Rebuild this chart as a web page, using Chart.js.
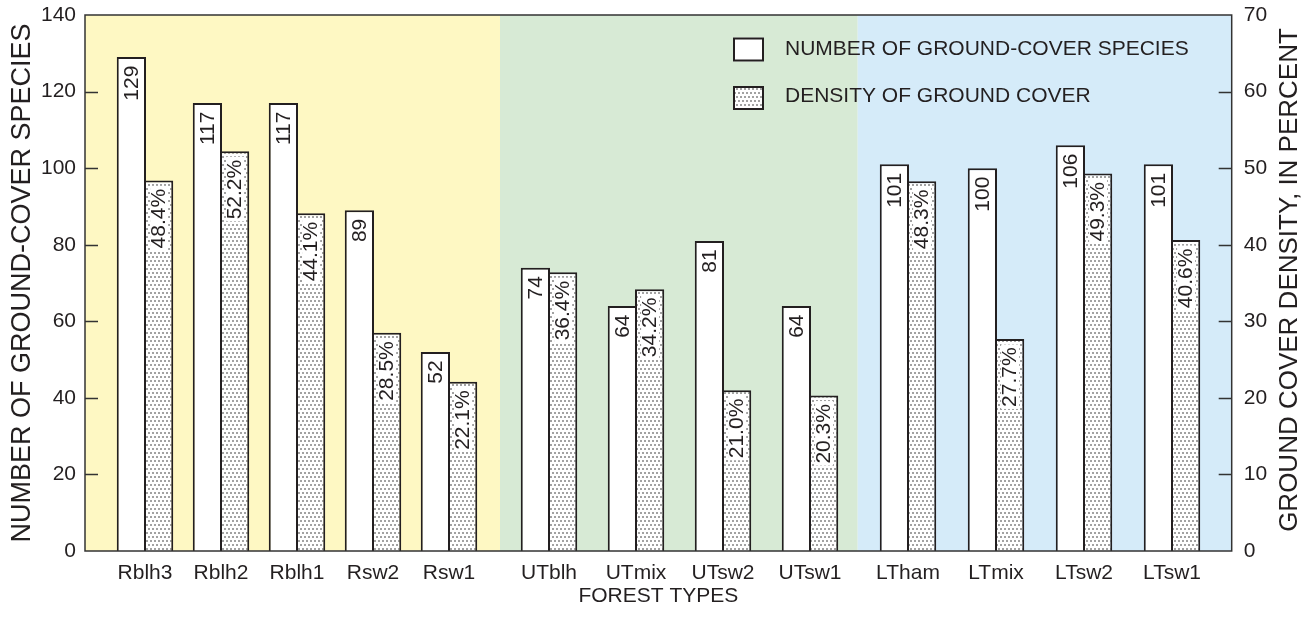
<!DOCTYPE html>
<html><head><meta charset="utf-8">
<script src="https://cdn.jsdelivr.net/npm/chart.js@4.4.1/dist/chart.umd.min.js"></script>
<style>html,body{margin:0;padding:0;background:#fff}#wrap{width:1314px;height:633px;position:relative}</style>
</head><body><div id="wrap"><canvas id="c"></canvas></div>
<script>
// ---------- DATA ----------
const categories = ['Rblh3','Rblh2','Rblh1','Rsw2','Rsw1','UTblh','UTmix','UTsw2','UTsw1','LTham','LTmix','LTsw2','LTsw1'];
const groupSizes = [5, 4, 4];
const speciesCount = [129, 117, 117, 89, 52, 74, 64, 81, 64, 101, 100, 106, 101];
const coverDensity = [48.4, 52.2, 44.1, 28.5, 22.1, 36.4, 34.2, 21.0, 20.3, 48.3, 27.7, 49.3, 40.6];
const leftTicks = [0, 20, 40, 60, 80, 100, 120, 140];
const rightTicks = [0, 10, 20, 30, 40, 50, 60, 70];
const seriesNames = ['NUMBER OF GROUND-COVER SPECIES', 'DENSITY OF GROUND COVER'];
const xTitle = 'FOREST TYPES';
const yTitle = 'NUMBER OF GROUND-COVER SPECIES';
const y1Title = 'GROUND COVER DENSITY, IN PERCENT';

// ---------- LAYOUT (axis units along x) ----------
const X_SPAN = 1146.7;
const GROUP_START = [60, 464, 823];
const GROUP_STEP = [76, 87, 88];
const BAND_EDGES = [0, 415, 772.7, X_SPAN];
const BAND_COLORS = ['#fef8c3', '#d7ead5', '#d5ebf9'];
const INK = '#231f20';
const FONT = "'Liberation Sans', Arial, Helvetica, sans-serif";

const xPos = [];
groupSizes.forEach((n, g) => { for (let i = 0; i < n; i++) xPos.push(GROUP_START[g] + i * GROUP_STEP[g]); });

const canvas = document.getElementById('c');
const ctx0 = canvas.getContext('2d');
function makeDots() {
  const t = document.createElement('canvas'); t.width = 8; t.height = 8;
  const g = t.getContext('2d');
  g.fillStyle = '#ffffff'; g.fillRect(0, 0, 8, 8);
  g.fillStyle = '#a2a2a2';
  [[0,0],[4,0],[2,4],[6,4]].forEach(([x, y]) => g.fillRect(x, y, 2, 2));
  return ctx0.createPattern(t, 'repeat');
}
const dots = makeDots();

Chart.defaults.font.family = FONT;
Chart.defaults.color = INK;

const bandsPlugin = {
  id: 'bands',
  beforeDatasetsDraw(chart) {
    const { ctx, chartArea: a, scales: { x } } = chart;
    ctx.save();
    for (let i = 0; i < BAND_COLORS.length; i++) {
      const x0 = x.getPixelForValue(BAND_EDGES[i]);
      const x1 = x.getPixelForValue(BAND_EDGES[i + 1]);
      ctx.fillStyle = BAND_COLORS[i];
      ctx.fillRect(x0, a.top, x1 - x0, a.bottom - a.top);
    }
    ctx.restore();
  }
};

const framePlugin = {
  id: 'frame',
  afterDatasetsDraw(chart) {
    const { ctx, chartArea: a, scales: { y, y1 } } = chart;
    ctx.save();
    ctx.strokeStyle = '#333';
    ctx.lineWidth = 1.5;
    ctx.beginPath();
    leftTicks.slice(1, -1).forEach(v => { const p = Math.round(y.getPixelForValue(v)) + 0.5; ctx.moveTo(a.left, p); ctx.lineTo(a.left + 13, p); });
    rightTicks.slice(1, -1).forEach(v => { const p = Math.round(y1.getPixelForValue(v)) + 0.5; ctx.moveTo(a.right, p); ctx.lineTo(a.right - 13, p); });
    ctx.stroke();
    ctx.strokeRect(a.left, a.top, a.right - a.left, a.bottom - a.top);
    ctx.restore();
  }
};

const labelPlugin = {
  id: 'barLabels',
  afterDatasetsDraw(chart) {
    const { ctx } = chart;
    ctx.save();
    ctx.font = '21px ' + FONT;
    chart.data.datasets.forEach((ds, di) => {
      const meta = chart.getDatasetMeta(di);
      meta.data.forEach((bar, i) => {
        const v = ds.data[i].y;
        const txt = di === 0 ? String(v) : v.toFixed(1) + '%';
        const tw = ctx.measureText(txt).width;
        ctx.save();
        ctx.translate(bar.x + 0.5, bar.y + 8.5);
        ctx.rotate(-Math.PI / 2);
        if (di === 1) { ctx.fillStyle = '#fff'; ctx.fillRect(-tw - 2, -9, tw + 5, 18); }
        ctx.fillStyle = INK;
        ctx.textAlign = 'right';
        ctx.textBaseline = 'middle';
        ctx.fillText(txt, 0, 0);
        ctx.restore();
      });
    });
    ctx.restore();
  }
};

const extrasPlugin = {
  id: 'extras',
  afterDraw(chart) {
    const { ctx, chartArea: a, scales: { y1 } } = chart;
    ctx.save();
    ctx.font = '26px ' + FONT;
    ctx.fillStyle = INK;
    ctx.textAlign = 'center'; ctx.textBaseline = 'middle';
    ctx.translate(y1.right - 24, (a.top + a.bottom) / 2 - 3);
    ctx.rotate(-Math.PI / 2);
    ctx.fillText(y1Title, 0, 0);
    ctx.restore();
    ctx.save();
    const lx = a.left + 648, rows = [a.top + 22.5, a.top + 71];
    const fills = ['#ffffff', dots];
    ctx.font = '21px ' + FONT;
    ctx.textBaseline = 'middle'; ctx.textAlign = 'left';
    rows.forEach((ry, k) => {
      ctx.fillStyle = fills[k];
      ctx.fillRect(lx, ry, 31, 24);
      ctx.strokeStyle = INK; ctx.lineWidth = 2;
      ctx.strokeRect(lx + 1, ry + 1, 29, 22);
      ctx.fillStyle = INK;
      ctx.fillText(seriesNames[k], lx + 52, ry + 12 - (k === 1 ? 1.5 : 0));
    });
    ctx.restore();
  }
};

const barStyle = { borderColor: INK, borderWidth: 2, borderSkipped: 'start', barPercentage: 1.0734, categoryPercentage: 0.717 };
const fitVertical = w => s => { s.width = w; s.paddingTop = 0; s.paddingBottom = 0; };

new Chart(canvas, {
  type: 'bar',
  data: {
    datasets: [
      Object.assign({ label: seriesNames[0], data: categories.map((c, i) => ({ x: xPos[i], y: speciesCount[i] })), backgroundColor: '#ffffff', yAxisID: 'y' }, barStyle),
      Object.assign({ label: seriesNames[1], data: categories.map((c, i) => ({ x: xPos[i], y: coverDensity[i] })), backgroundColor: dots, yAxisID: 'y1' }, barStyle)
    ]
  },
  options: {
    responsive: true, maintainAspectRatio: false, animation: false,
    layout: { padding: { top: 15, left: 0, right: 0, bottom: 0 } },
    plugins: { legend: { display: false }, tooltip: { enabled: false } },
    scales: {
      x: {
        type: 'linear', min: 0, max: X_SPAN, offset: false,
        grid: { display: false, drawTicks: false }, border: { display: false },
        afterBuildTicks: s => { s.ticks = xPos.map(v => ({ value: v })); },
        afterFit: s => { s.height = 82; },
        ticks: { autoSkip: false, maxRotation: 0, padding: 10, font: { size: 21 }, color: INK, callback: (v, i) => categories[i] },
        title: { display: true, text: xTitle, font: { size: 21 }, color: INK, padding: { top: 0, bottom: 24 } }
      },
      y: {
        position: 'left', min: 0, max: 140,
        grid: { display: false, drawTicks: false }, border: { display: false },
        afterBuildTicks: s => { s.ticks = leftTicks.map(v => ({ value: v })); },
        afterFit: fitVertical(85),
        ticks: { padding: 9, font: { size: 21 }, color: INK },
        title: { display: true, text: yTitle, font: { size: 27 }, color: INK, padding: { top: 6, bottom: 0 } }
      },
      y1: {
        position: 'right', min: 0, max: 70,
        grid: { display: false, drawTicks: false }, border: { display: false },
        afterBuildTicks: s => { s.ticks = rightTicks.map(v => ({ value: v })); },
        afterFit: fitVertical(82.3),
        ticks: { padding: 12, font: { size: 21 }, color: INK }
      }
    }
  },
  plugins: [bandsPlugin, framePlugin, labelPlugin, extrasPlugin]
});
</script>
</body></html>
